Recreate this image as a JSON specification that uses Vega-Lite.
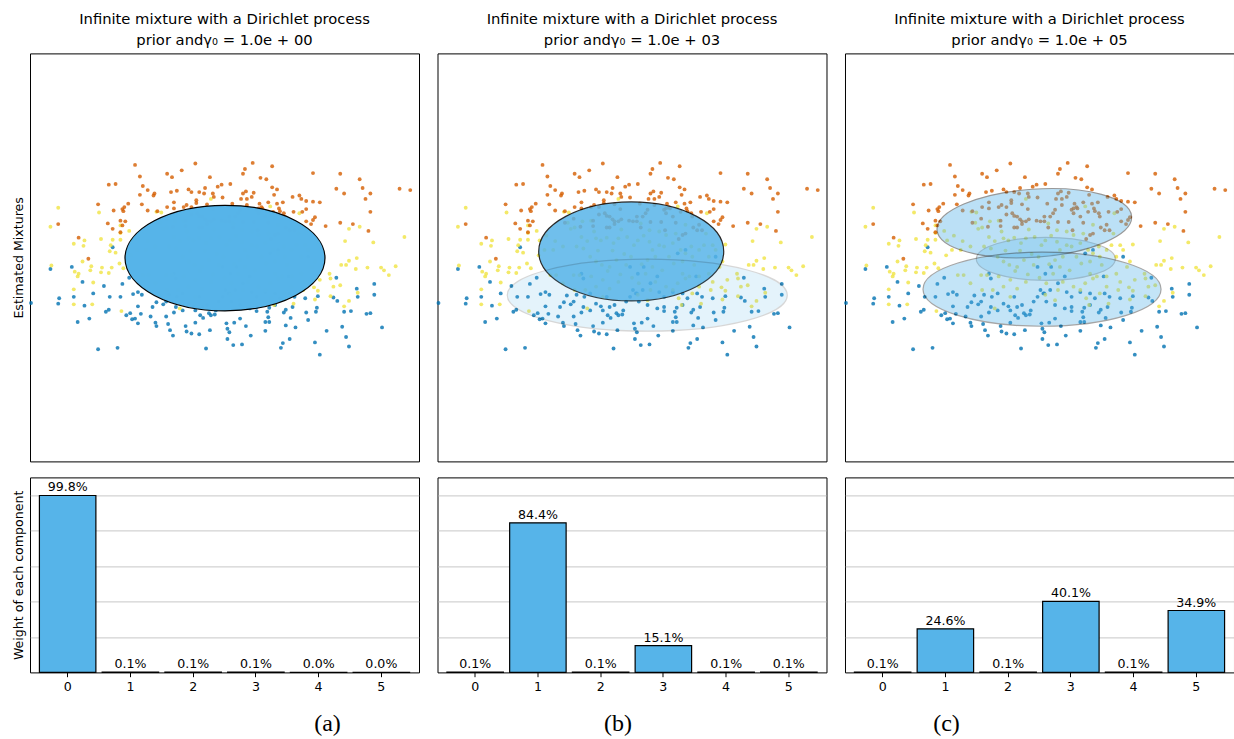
{
"$schema": "https://vega.github.io/schema/vega-lite/v6.json",
"background": "white",
"padding": {"left": 11, "top": 11.4, "right": 0, "bottom": 0},
"config": {
  "font": "DejaVu Sans",
  "view": {"stroke": "black", "strokeWidth": 1},
  "title": {"font": "DejaVu Sans", "fontSize": 14.75, "fontWeight": "normal", "color": "black", "lineHeight": 21, "offset": 5.5},
  "axis": {"labelFont": "DejaVu Sans", "titleFont": "DejaVu Sans", "labelFontSize": 12.6, "titleFontSize": 12.6, "titleFontWeight": "normal", "labelColor": "black", "titleColor": "black", "tickColor": "black"}
},
"datasets": {
  "pts": [
{"x":-1.99,"y":-0.67,"c":"b"},{"x":-1.79,"y":-0.17,"c":"b"},{"x":-1.57,"y":-0.14,"c":"b"},{"x":-1.46,"y":-0.36,"c":"b"},{"x":-1.15,"y":0.15,"c":"b"},{"x":-1.70,"y":-0.60,"c":"b"},{"x":-1.71,"y":-0.68,"c":"b"},{"x":-1.55,"y":-0.58,"c":"b"},{"x":-1.44,"y":-0.71,"c":"b"},{"x":-1.35,"y":-0.53,"c":"b"},{"x":-1.24,"y":-0.42,"c":"b"},{"x":-1.18,"y":-0.58,"c":"b"},{"x":-1.07,"y":-0.58,"c":"b"},{"x":-1.05,"y":-0.39,"c":"b"},{"x":-0.94,"y":-0.54,"c":"b"},{"x":-0.89,"y":-0.51,"c":"b"},{"x":-0.85,"y":-0.55,"c":"b"},{"x":-1.22,"y":-0.80,"c":"b"},{"x":-1.19,"y":-0.77,"c":"b"},{"x":-0.89,"y":-0.72,"c":"b"},{"x":-1.51,"y":-0.95,"c":"b"},{"x":-1.39,"y":-0.90,"c":"b"},{"x":-1.01,"y":-0.85,"c":"b"},{"x":-0.97,"y":-0.82,"c":"b"},{"x":-0.95,"y":-0.91,"c":"b"},{"x":-0.92,"y":-0.90,"c":"b"},{"x":-0.86,"y":-0.83,"c":"b"},{"x":-0.89,"y":-0.97,"c":"b"},{"x":-0.74,"y":-0.73,"c":"b"},{"x":-0.70,"y":-0.66,"c":"b"},{"x":-0.63,"y":-0.69,"c":"b"},{"x":-0.76,"y":-0.87,"c":"b"},{"x":-0.71,"y":-0.96,"c":"b"},{"x":-0.70,"y":-1.01,"c":"b"},{"x":-0.60,"y":-0.87,"c":"b"},{"x":-0.58,"y":-0.98,"c":"b"},{"x":-0.52,"y":-0.81,"c":"b"},{"x":-0.56,"y":-1.07,"c":"b"},{"x":-0.53,"y":-1.15,"c":"b"},{"x":-0.40,"y":-1.01,"c":"b"},{"x":-0.39,"y":-1.09,"c":"b"},{"x":-0.34,"y":-1.12,"c":"b"},{"x":-0.30,"y":-0.96,"c":"b"},{"x":-0.26,"y":-1.13,"c":"b"},{"x":-0.25,"y":-0.85,"c":"b"},{"x":-0.22,"y":-0.89,"c":"b"},{"x":-0.16,"y":-0.82,"c":"b"},{"x":-0.14,"y":-0.85,"c":"b"},{"x":-0.10,"y":-0.84,"c":"b"},{"x":-0.15,"y":-1.07,"c":"b"},{"x":-0.19,"y":-1.34,"c":"b"},{"x":-1.30,"y":-1.35,"c":"b"},{"x":-1.10,"y":-1.33,"c":"b"},
{"x":1.15,"y":-0.30,"c":"b"},{"x":1.36,"y":-0.46,"c":"b"},{"x":1.37,"y":-0.58,"c":"b"},{"x":1.54,"y":-0.39,"c":"b"},{"x":1.54,"y":-0.55,"c":"b"},{"x":0.96,"y":-0.57,"c":"b"},{"x":1.12,"y":-0.59,"c":"b"},{"x":1.16,"y":-0.64,"c":"b"},{"x":0.95,"y":-0.74,"c":"b"},{"x":0.94,"y":-0.80,"c":"b"},{"x":0.84,"y":-0.81,"c":"b"},{"x":1.23,"y":-0.80,"c":"b"},{"x":1.30,"y":-0.79,"c":"b"},{"x":1.46,"y":-0.83,"c":"b"},{"x":1.50,"y":-0.82,"c":"b"},{"x":0.70,"y":-0.73,"c":"b"},{"x":0.63,"y":-0.77,"c":"b"},{"x":0.61,"y":-0.81,"c":"b"},{"x":0.46,"y":-0.74,"c":"b"},{"x":0.44,"y":-0.80,"c":"b"},{"x":0.33,"y":-0.79,"c":"b"},{"x":0.16,"y":-0.90,"c":"b"},{"x":0.10,"y":-0.96,"c":"b"},{"x":0.02,"y":-0.97,"c":"b"},{"x":0.22,"y":-1.01,"c":"b"},{"x":0.42,"y":-0.95,"c":"b"},{"x":0.46,"y":-0.95,"c":"b"},{"x":0.45,"y":-0.88,"c":"b"},{"x":0.63,"y":-1.00,"c":"b"},{"x":0.73,"y":-1.03,"c":"b"},{"x":0.68,"y":-0.89,"c":"b"},{"x":0.86,"y":-0.92,"c":"b"},{"x":0.42,"y":-1.08,"c":"b"},{"x":0.27,"y":-1.15,"c":"b"},{"x":0.03,"y":-1.05,"c":"b"},{"x":0.05,"y":-1.10,"c":"b"},{"x":0.03,"y":-1.20,"c":"b"},{"x":0.18,"y":-1.28,"c":"b"},{"x":0.09,"y":-1.29,"c":"b"},{"x":0.60,"y":-1.26,"c":"b"},{"x":0.67,"y":-1.20,"c":"b"},{"x":0.58,"y":-1.33,"c":"b"},{"x":0.93,"y":-1.25,"c":"b"},{"x":0.98,"y":-1.43,"c":"b"},{"x":1.05,"y":-1.08,"c":"b"},{"x":1.21,"y":-1.02,"c":"b"},{"x":1.25,"y":-1.17,"c":"b"},{"x":1.28,"y":-1.31,"c":"b"},{"x":1.62,"y":-1.03,"c":"b"},
{"x":-0.98,"y":-0.30,"c":"b"},{"x":-0.67,"y":-0.56,"c":"b"},{"x":-0.60,"y":-0.65,"c":"b"},{"x":-0.57,"y":-0.55,"c":"b"},{"x":-0.52,"y":-0.24,"c":"b"},{"x":-0.50,"y":-0.31,"c":"b"},{"x":-0.49,"y":-0.58,"c":"b"},{"x":-0.43,"y":-0.53,"c":"b"},{"x":-0.37,"y":-0.68,"c":"b"},{"x":-0.32,"y":-0.72,"c":"b"},{"x":-0.30,"y":-0.78,"c":"b"},{"x":-0.26,"y":-0.58,"c":"b"},{"x":-0.23,"y":-0.73,"c":"b"},{"x":-0.18,"y":-0.70,"c":"b"},{"x":-0.09,"y":-0.78,"c":"b"},{"x":-0.06,"y":-0.65,"c":"b"},{"x":-0.02,"y":-0.58,"c":"b"},{"x":0.01,"y":-0.48,"c":"b"},{"x":0.05,"y":-0.53,"c":"b"},{"x":-0.43,"y":-0.78,"c":"b"},{"x":-0.50,"y":-0.73,"c":"b"},{"x":-0.02,"y":-0.14,"c":"b"},
{"x":0.04,"y":-0.53,"c":"b"},{"x":0.11,"y":-0.48,"c":"b"},{"x":0.19,"y":-0.38,"c":"b"},{"x":0.28,"y":-0.51,"c":"b"},{"x":0.33,"y":-0.58,"c":"b"},{"x":0.42,"y":-0.51,"c":"b"},{"x":0.52,"y":-0.53,"c":"b"},{"x":0.57,"y":-0.60,"c":"b"},{"x":0.67,"y":-0.53,"c":"b"},{"x":0.72,"y":-0.58,"c":"b"},{"x":0.83,"y":-0.60,"c":"b"},{"x":0.07,"y":-0.65,"c":"b"},{"x":0.16,"y":-0.70,"c":"b"},{"x":0.26,"y":-0.75,"c":"b"},{"x":0.33,"y":-0.73,"c":"b"},{"x":0.52,"y":-0.70,"c":"b"},{"x":0.66,"y":-0.28,"c":"b"},{"x":0.26,"y":-0.28,"c":"b"},{"x":0.12,"y":-0.14,"c":"b"},{"x":0.06,"y":-0.24,"c":"b"},{"x":0.47,"y":0.06,"c":"b"},{"x":0.55,"y":0.11,"c":"b"},{"x":0.86,"y":0.01,"c":"b"},
{"x":-1.71,"y":0.73,"c":"y"},{"x":-1.29,"y":0.66,"c":"y"},{"x":-1.79,"y":0.45,"c":"y"},{"x":-1.44,"y":0.25,"c":"y"},{"x":-1.45,"y":0.17,"c":"y"},{"x":-1.55,"y":0.20,"c":"y"},{"x":-1.27,"y":0.27,"c":"y"},{"x":-1.15,"y":0.26,"c":"y"},{"x":-1.07,"y":0.26,"c":"y"},{"x":-1.17,"y":0.18,"c":"y"},{"x":-1.18,"y":0.09,"c":"y"},{"x":-1.12,"y":0.07,"c":"y"},{"x":-0.98,"y":0.39,"c":"y"},{"x":-1.07,"y":0.47,"c":"y"},{"x":-1.78,"y":-0.12,"c":"y"},{"x":-1.54,"y":-0.21,"c":"y"},{"x":-1.50,"y":-0.24,"c":"y"},{"x":-1.51,"y":-0.28,"c":"y"},{"x":-1.46,"y":-0.06,"c":"y"},{"x":-1.38,"y":-0.19,"c":"y"},{"x":-1.37,"y":-0.13,"c":"y"},{"x":-1.27,"y":-0.22,"c":"y"},{"x":-1.26,"y":-0.15,"c":"y"},{"x":-1.19,"y":-0.23,"c":"y"},{"x":-1.16,"y":-0.15,"c":"y"},{"x":-1.08,"y":-0.09,"c":"y"},{"x":-1.04,"y":-0.16,"c":"y"},{"x":-1.55,"y":-0.47,"c":"y"},{"x":-1.35,"y":-0.37,"c":"y"},{"x":-1.55,"y":-0.69,"c":"y"},{"x":-1.36,"y":-0.69,"c":"y"},{"x":-1.06,"y":-0.79,"c":"y"},{"x":-0.46,"y":-0.75,"c":"y"},{"x":-0.65,"y":0.66,"c":"y"},{"x":-0.70,"y":0.67,"c":"y"},{"x":-0.14,"y":0.86,"c":"y"},{"x":-1.07,"y":0.36,"c":"y"},
{"x":0.47,"y":0.75,"c":"y"},{"x":0.77,"y":0.65,"c":"y"},{"x":1.28,"y":0.42,"c":"y"},{"x":1.39,"y":0.45,"c":"y"},{"x":1.24,"y":0.24,"c":"y"},{"x":1.53,"y":0.22,"c":"y"},{"x":1.85,"y":0.30,"c":"y"},{"x":1.20,"y":-0.11,"c":"y"},{"x":1.25,"y":-0.11,"c":"y"},{"x":1.28,"y":-0.05,"c":"y"},{"x":1.36,"y":-0.01,"c":"y"},{"x":1.35,"y":-0.17,"c":"y"},{"x":1.47,"y":-0.15,"c":"y"},{"x":1.61,"y":-0.15,"c":"y"},{"x":1.64,"y":-0.19,"c":"y"},{"x":1.69,"y":-0.26,"c":"y"},{"x":1.76,"y":-0.13,"c":"y"},{"x":1.08,"y":-0.24,"c":"y"},{"x":1.09,"y":-0.31,"c":"y"},{"x":0.98,"y":-0.33,"c":"y"},{"x":1.12,"y":-0.43,"c":"y"},{"x":1.19,"y":-0.41,"c":"y"},{"x":0.92,"y":-0.44,"c":"y"},{"x":0.96,"y":-0.49,"c":"y"},{"x":1.09,"y":-0.57,"c":"y"},{"x":0.93,"y":-0.62,"c":"y"},{"x":1.28,"y":-0.64,"c":"y"},{"x":1.23,"y":-0.72,"c":"y"},{"x":1.37,"y":-0.52,"c":"y"},{"x":0.51,"y":-0.70,"c":"y"},
{"x":-0.88,"y":0.32,"c":"y"},{"x":-0.79,"y":0.24,"c":"y"},{"x":-0.71,"y":0.16,"c":"y"},{"x":-0.66,"y":0.51,"c":"y"},{"x":-0.63,"y":0.42,"c":"y"},{"x":-0.59,"y":0.44,"c":"y"},{"x":-0.52,"y":0.30,"c":"y"},{"x":-0.42,"y":0.54,"c":"y"},{"x":-0.39,"y":0.38,"c":"y"},{"x":-0.37,"y":0.28,"c":"y"},{"x":-0.32,"y":0.25,"c":"y"},{"x":-0.26,"y":0.29,"c":"y"},{"x":-0.19,"y":0.21,"c":"y"},{"x":-0.14,"y":0.28,"c":"y"},{"x":-0.11,"y":0.41,"c":"y"},{"x":-0.50,"y":0.13,"c":"y"},{"x":-0.43,"y":0.01,"c":"y"},{"x":-0.37,"y":-0.06,"c":"y"},{"x":-0.31,"y":-0.11,"c":"y"},{"x":-0.23,"y":-0.14,"c":"y"},{"x":-0.16,"y":-0.04,"c":"y"},{"x":-0.06,"y":-0.11,"c":"y"},{"x":-0.01,"y":0.01,"c":"y"},{"x":-0.42,"y":-0.28,"c":"y"},{"x":-0.30,"y":-0.33,"c":"y"},{"x":-0.37,"y":-0.43,"c":"y"},{"x":-0.23,"y":-0.46,"c":"y"},{"x":-0.14,"y":-0.36,"c":"y"},{"x":-0.60,"y":-0.26,"c":"y"},{"x":-0.54,"y":-0.26,"c":"y"},{"x":-0.71,"y":-0.38,"c":"y"},{"x":-0.78,"y":-0.26,"c":"y"},{"x":-0.84,"y":-0.26,"c":"y"},{"x":-0.59,"y":-0.48,"c":"y"},{"x":-0.48,"y":-0.48,"c":"y"},{"x":-0.30,"y":-0.58,"c":"y"},{"x":-0.81,"y":0.11,"c":"y"},{"x":-0.90,"y":0.11,"c":"y"},{"x":-0.96,"y":0.03,"c":"y"},{"x":-0.95,"y":0.25,"c":"y"},{"x":-0.51,"y":0.53,"c":"y"},{"x":-0.46,"y":0.24,"c":"y"},{"x":-0.57,"y":0.16,"c":"y"},
{"x":0.06,"y":0.25,"c":"y"},{"x":0.18,"y":0.23,"c":"y"},{"x":0.21,"y":0.11,"c":"y"},{"x":0.28,"y":0.18,"c":"y"},{"x":0.33,"y":0.16,"c":"y"},{"x":0.42,"y":0.21,"c":"y"},{"x":0.50,"y":0.11,"c":"y"},{"x":0.55,"y":0.06,"c":"y"},{"x":0.62,"y":0.01,"c":"y"},{"x":0.61,"y":0.16,"c":"y"},{"x":0.69,"y":0.11,"c":"y"},{"x":0.74,"y":0.18,"c":"y"},{"x":0.79,"y":0.01,"c":"y"},{"x":0.16,"y":-0.04,"c":"y"},{"x":0.24,"y":0.01,"c":"y"},{"x":0.38,"y":0.01,"c":"y"},{"x":0.43,"y":-0.09,"c":"y"},{"x":0.52,"y":-0.06,"c":"y"},{"x":0.64,"y":-0.11,"c":"y"},{"x":0.21,"y":-0.14,"c":"y"},{"x":0.31,"y":-0.19,"c":"y"},{"x":0.14,"y":-0.24,"c":"y"},{"x":0.52,"y":-0.24,"c":"y"},{"x":0.59,"y":-0.28,"c":"y"},{"x":0.69,"y":-0.28,"c":"y"},{"x":0.79,"y":-0.24,"c":"y"},{"x":0.83,"y":-0.36,"c":"y"},{"x":0.90,"y":-0.14,"c":"y"},{"x":0.93,"y":-0.06,"c":"y"},{"x":0.47,"y":-0.38,"c":"y"},{"x":0.55,"y":-0.31,"c":"y"},{"x":0.24,"y":-0.36,"c":"y"},{"x":0.07,"y":-0.38,"c":"y"},{"x":0.19,"y":-0.48,"c":"y"},{"x":0.35,"y":-0.43,"c":"y"},{"x":0.42,"y":-0.48,"c":"y"},{"x":0.69,"y":-0.43,"c":"y"},{"x":0.81,"y":-0.48,"c":"y"},{"x":0.62,"y":-0.53,"c":"y"},{"x":0.16,"y":-0.63,"c":"y"},{"x":0.48,"y":-0.60,"c":"y"},{"x":0.71,"y":-0.68,"c":"y"},{"x":0.06,"y":-0.55,"c":"y"},{"x":0.86,"y":0.11,"c":"y"},{"x":0.96,"y":0.19,"c":"y"},{"x":0.83,"y":0.18,"c":"y"},{"x":0.45,"y":0.35,"c":"y"},{"x":0.28,"y":0.38,"c":"y"},{"x":0.18,"y":0.40,"c":"y"},{"x":0.09,"y":0.50,"c":"y"},{"x":0.55,"y":0.48,"c":"y"},{"x":0.35,"y":0.33,"c":"y"},{"x":0.76,"y":0.35,"c":"y"},
{"x":-0.08,"y":0.05,"c":"y"},{"x":0.02,"y":0.18,"c":"y"},{"x":-0.20,"y":0.10,"c":"y"},{"x":-0.12,"y":-0.25,"c":"y"},{"x":0.10,"y":-0.10,"c":"y"},{"x":-0.25,"y":-0.20,"c":"y"},{"x":0.00,"y":-0.30,"c":"y"},{"x":-0.05,"y":0.30,"c":"y"},{"x":0.12,"y":0.32,"c":"y"},{"x":-0.35,"y":0.10,"c":"y"},
{"x":-0.92,"y":1.36,"c":"o"},{"x":-0.30,"y":1.38,"c":"o"},{"x":-0.87,"y":1.19,"c":"o"},{"x":-0.59,"y":1.23,"c":"o"},{"x":-0.54,"y":1.18,"c":"o"},{"x":-0.44,"y":1.28,"c":"o"},{"x":-0.15,"y":1.18,"c":"o"},{"x":-1.19,"y":1.07,"c":"o"},{"x":-1.12,"y":1.08,"c":"o"},{"x":-0.84,"y":1.05,"c":"o"},{"x":-0.79,"y":0.99,"c":"o"},{"x":-0.72,"y":0.94,"c":"o"},{"x":-0.73,"y":0.91,"c":"o"},{"x":-0.87,"y":0.92,"c":"o"},{"x":-0.55,"y":0.96,"c":"o"},{"x":-0.49,"y":0.98,"c":"o"},{"x":-0.37,"y":1.00,"c":"o"},{"x":-0.34,"y":0.96,"c":"o"},{"x":-0.26,"y":0.96,"c":"o"},{"x":-0.21,"y":0.94,"c":"o"},{"x":-0.20,"y":1.02,"c":"o"},{"x":-0.12,"y":0.94,"c":"o"},{"x":-0.07,"y":1.04,"c":"o"},{"x":-0.03,"y":1.07,"c":"o"},{"x":-1.30,"y":0.78,"c":"o"},{"x":-0.99,"y":0.79,"c":"o"},{"x":-1.03,"y":0.74,"c":"o"},{"x":-1.05,"y":0.71,"c":"o"},{"x":-1.04,"y":0.68,"c":"o"},{"x":-1.14,"y":0.69,"c":"o"},{"x":-0.85,"y":0.78,"c":"o"},{"x":-0.79,"y":0.69,"c":"o"},{"x":-0.69,"y":0.68,"c":"o"},{"x":-0.59,"y":0.74,"c":"o"},{"x":-0.52,"y":0.81,"c":"o"},{"x":-0.52,"y":0.72,"c":"o"},{"x":-0.42,"y":0.74,"c":"o"},{"x":-0.39,"y":0.77,"c":"o"},{"x":-0.29,"y":0.84,"c":"o"},{"x":-0.29,"y":0.80,"c":"o"},{"x":-0.18,"y":0.78,"c":"o"},{"x":-0.11,"y":0.89,"c":"o"},{"x":-0.02,"y":0.88,"c":"o"},{"x":-1.71,"y":0.49,"c":"o"},{"x":-1.20,"y":0.50,"c":"o"},{"x":-1.07,"y":0.54,"c":"o"},{"x":-1.02,"y":0.53,"c":"o"},{"x":-1.05,"y":0.47,"c":"o"},{"x":-1.15,"y":0.42,"c":"o"},{"x":-1.07,"y":0.37,"c":"o"},{"x":-1.50,"y":0.29,"c":"o"},{"x":-1.40,"y":-0.02,"c":"o"},
{"x":0.29,"y":1.39,"c":"o"},{"x":0.49,"y":1.34,"c":"o"},{"x":0.21,"y":1.30,"c":"o"},{"x":0.19,"y":1.23,"c":"o"},{"x":0.37,"y":1.17,"c":"o"},{"x":0.43,"y":1.15,"c":"o"},{"x":0.06,"y":1.08,"c":"o"},{"x":0.91,"y":1.24,"c":"o"},{"x":1.19,"y":1.23,"c":"o"},{"x":1.39,"y":1.15,"c":"o"},{"x":1.15,"y":1.01,"c":"o"},{"x":1.23,"y":0.94,"c":"o"},{"x":1.42,"y":1.02,"c":"o"},{"x":1.50,"y":0.94,"c":"o"},{"x":1.45,"y":0.86,"c":"o"},{"x":1.80,"y":1.01,"c":"o"},{"x":1.91,"y":0.99,"c":"o"},{"x":0.49,"y":1.03,"c":"o"},{"x":0.54,"y":1.00,"c":"o"},{"x":0.51,"y":0.92,"c":"o"},{"x":0.19,"y":0.94,"c":"o"},{"x":0.22,"y":0.97,"c":"o"},{"x":0.17,"y":0.86,"c":"o"},{"x":0.28,"y":0.89,"c":"o"},{"x":0.30,"y":0.95,"c":"o"},{"x":0.23,"y":0.86,"c":"o"},{"x":0.36,"y":0.79,"c":"o"},{"x":0.45,"y":0.81,"c":"o"},{"x":0.54,"y":0.79,"c":"o"},{"x":0.60,"y":0.81,"c":"o"},{"x":0.70,"y":0.89,"c":"o"},{"x":0.77,"y":0.91,"c":"o"},{"x":0.79,"y":0.86,"c":"o"},{"x":0.84,"y":0.83,"c":"o"},{"x":0.91,"y":0.82,"c":"o"},{"x":0.98,"y":0.81,"c":"o"},{"x":0.08,"y":0.79,"c":"o"},{"x":0.23,"y":0.77,"c":"o"},{"x":0.56,"y":0.72,"c":"o"},{"x":0.57,"y":0.68,"c":"o"},{"x":0.61,"y":0.65,"c":"o"},{"x":0.84,"y":0.71,"c":"o"},{"x":0.80,"y":0.67,"c":"o"},{"x":0.93,"y":0.59,"c":"o"},{"x":0.91,"y":0.55,"c":"o"},{"x":0.84,"y":0.53,"c":"o"},{"x":0.89,"y":0.49,"c":"o"},{"x":1.04,"y":0.46,"c":"o"},{"x":1.19,"y":0.51,"c":"o"},{"x":1.32,"y":0.49,"c":"o"},{"x":1.48,"y":0.39,"c":"o"},{"x":1.50,"y":0.67,"c":"o"},
{"x":-0.34,"y":0.74,"c":"o"},{"x":-0.28,"y":0.65,"c":"o"},{"x":-0.26,"y":0.61,"c":"o"},{"x":-0.23,"y":0.60,"c":"o"},{"x":-0.20,"y":0.56,"c":"o"},{"x":-0.18,"y":0.53,"c":"o"},{"x":-0.12,"y":0.71,"c":"o"},{"x":-0.11,"y":0.56,"c":"o"},{"x":-0.03,"y":0.54,"c":"o"},{"x":0.01,"y":0.53,"c":"o"},{"x":-0.26,"y":0.44,"c":"o"},{"x":-0.23,"y":0.44,"c":"o"},{"x":-0.18,"y":0.49,"c":"o"},{"x":-0.14,"y":0.53,"c":"o"},{"x":-0.69,"y":0.51,"c":"o"},{"x":-0.34,"y":0.63,"c":"o"},{"x":-0.40,"y":0.54,"c":"o"},{"x":-0.60,"y":0.57,"c":"o"},{"x":-0.53,"y":0.45,"c":"o"},{"x":-0.40,"y":0.46,"c":"o"},{"x":0.05,"y":0.60,"c":"o"},
{"x":0.05,"y":0.53,"c":"o"},{"x":0.09,"y":0.44,"c":"o"},{"x":0.14,"y":0.65,"c":"o"},{"x":0.16,"y":0.70,"c":"o"},{"x":0.33,"y":0.70,"c":"o"},{"x":0.35,"y":0.72,"c":"o"},{"x":0.38,"y":0.74,"c":"o"},{"x":0.35,"y":0.65,"c":"o"},{"x":0.39,"y":0.72,"c":"o"},{"x":0.50,"y":0.67,"c":"o"},{"x":0.62,"y":0.60,"c":"o"},{"x":0.71,"y":0.67,"c":"o"},{"x":0.72,"y":0.40,"c":"o"},{"x":0.67,"y":0.40,"c":"o"},{"x":0.52,"y":0.33,"c":"o"},{"x":0.55,"y":0.35,"c":"o"},{"x":0.48,"y":0.27,"c":"o"},{"x":0.34,"y":0.40,"c":"o"},{"x":0.30,"y":0.52,"c":"o"},{"x":0.19,"y":0.52,"c":"o"},{"x":0.11,"y":0.60,"c":"o"},{"x":0.69,"y":0.48,"c":"o"},{"x":0.45,"y":0.51,"c":"o"},{"x":0.63,"y":0.44,"c":"o"},{"x":0.42,"y":0.60,"c":"o"}
  ],
  "ell": [
    {"panel":"a","comp":0,"x":0.005,"y":-0.01,"w":0.998},
    {"panel":"b","comp":1,"x":-0.008,"y":0.088,"w":0.844},
    {"panel":"b","comp":3,"x":0.157,"y":-0.556,"w":0.151},
    {"panel":"c","comp":1,"x":0.065,"y":-0.022,"w":0.246},
    {"panel":"c","comp":3,"x":-0.053,"y":0.503,"w":0.401},
    {"panel":"c","comp":5,"x":0.026,"y":-0.468,"w":0.349}
  ],
  "wts": [
    {"panel":"a","comp":0,"w":0.998},{"panel":"a","comp":1,"w":0.001},{"panel":"a","comp":2,"w":0.001},{"panel":"a","comp":3,"w":0.001},{"panel":"a","comp":4,"w":0.0004},{"panel":"a","comp":5,"w":0.0004},
    {"panel":"b","comp":0,"w":0.001},{"panel":"b","comp":1,"w":0.844},{"panel":"b","comp":2,"w":0.001},{"panel":"b","comp":3,"w":0.151},{"panel":"b","comp":4,"w":0.001},{"panel":"b","comp":5,"w":0.001},
    {"panel":"c","comp":0,"w":0.001},{"panel":"c","comp":1,"w":0.246},{"panel":"c","comp":2,"w":0.001},{"panel":"c","comp":3,"w":0.401},{"panel":"c","comp":4,"w":0.001},{"panel":"c","comp":5,"w":0.349}
  ]
},
"columns": 3,
"spacing": {"row": 14, "column": 15.5},
"concat": [
  {
    "width": 389, "height": 408,
    "title": {"text": ["Infinite mixture with a Dirichlet process", "prior andγ₀ = 1.0e + 00"]},
    "layer": [
      {"data": {"name": "pts"},
       "mark": {"type": "point", "filled": true, "size": 15, "opacity": 0.8},
       "encoding": {
         "x": {"field": "x", "type": "quantitative", "scale": {"domain": [-2, 2], "nice": false, "zero": false}, "axis": null},
         "y": {"field": "y", "type": "quantitative", "scale": {"domain": [-3, 3], "nice": false, "zero": false}, "axis": {"title": "Estimated Mixtures", "labels": false, "ticks": false, "domain": false, "grid": false, "titlePadding": 5}},
         "color": {"field": "c", "type": "nominal", "scale": {"domain": ["b", "y", "o"], "range": ["#0072B2", "#F0E442", "#D55E00"]}, "legend": null}
       }},
      {"data": {"name": "ell"}, "transform": [{"filter": "datum.panel == 'a' && datum.comp == 0"}],
       "mark": {"type": "point", "shape": "M-1,0C-1,-0.292,-0.552,-0.528,0,-0.528C0.552,-0.528,1,-0.292,1,0C1,0.292,0.552,0.528,0,0.528C-0.552,0.528,-1,0.292,-1,0Z", "size": 40000, "filled": true, "fill": "#56B4E9", "stroke": "black", "strokeWidth": 1.2},
       "encoding": {
         "x": {"field": "x", "type": "quantitative", "scale": {"domain": [-2, 2], "nice": false, "zero": false}, "axis": null},
         "y": {"field": "y", "type": "quantitative", "scale": {"domain": [-3, 3], "nice": false, "zero": false}, "axis": {"title": "Estimated Mixtures", "labels": false, "ticks": false, "domain": false, "grid": false, "titlePadding": 5}},
         "opacity": {"field": "w", "type": "quantitative", "scale": null}
       }}
    ]
  },
  {
    "width": 389, "height": 408,
    "title": {"text": ["Infinite mixture with a Dirichlet process", "prior andγ₀ = 1.0e + 03"]},
    "layer": [
      {"data": {"name": "pts"},
       "mark": {"type": "point", "filled": true, "size": 15, "opacity": 0.8},
       "encoding": {
         "x": {"field": "x", "type": "quantitative", "scale": {"domain": [-2, 2], "nice": false, "zero": false}, "axis": null},
         "y": {"field": "y", "type": "quantitative", "scale": {"domain": [-3, 3], "nice": false, "zero": false}, "axis": null},
         "color": {"field": "c", "type": "nominal", "scale": {"domain": ["b", "y", "o"], "range": ["#0072B2", "#F0E442", "#D55E00"]}, "legend": null}
       }},
      {"data": {"name": "ell"}, "transform": [{"filter": "datum.panel == 'b' && datum.comp == 1"}],
       "mark": {"type": "point", "shape": "M-1,0C-1,-0.296,-0.552,-0.535,0,-0.535C0.552,-0.535,1,-0.296,1,0C1,0.296,0.552,0.535,0,0.535C-0.552,0.535,-1,0.296,-1,0Z", "size": 34225, "filled": true, "fill": "#56B4E9", "stroke": "black", "strokeWidth": 1.2},
       "encoding": {
         "x": {"field": "x", "type": "quantitative", "scale": {"domain": [-2, 2], "nice": false, "zero": false}, "axis": null},
         "y": {"field": "y", "type": "quantitative", "scale": {"domain": [-3, 3], "nice": false, "zero": false}, "axis": null},
         "opacity": {"field": "w", "type": "quantitative", "scale": null}
       }},
      {"data": {"name": "ell"}, "transform": [{"filter": "datum.panel == 'b' && datum.comp == 3"}],
       "mark": {"type": "point", "shape": "M-1,0C-1,-0.142,-0.552,-0.257,0,-0.257C0.552,-0.257,1,-0.142,1,0C1,0.142,0.552,0.257,0,0.257C-0.552,0.257,-1,0.142,-1,0Z", "size": 78400, "filled": true, "fill": "#56B4E9", "stroke": "black", "strokeWidth": 1.2},
       "encoding": {
         "x": {"field": "x", "type": "quantitative", "scale": {"domain": [-2, 2], "nice": false, "zero": false}, "axis": null},
         "y": {"field": "y", "type": "quantitative", "scale": {"domain": [-3, 3], "nice": false, "zero": false}, "axis": null},
         "opacity": {"field": "w", "type": "quantitative", "scale": null}
       }}
    ]
  },
  {
    "width": 389, "height": 408,
    "title": {"text": ["Infinite mixture with a Dirichlet process", "prior andγ₀ = 1.0e + 05"]},
    "layer": [
      {"data": {"name": "pts"},
       "mark": {"type": "point", "filled": true, "size": 15, "opacity": 0.8},
       "encoding": {
         "x": {"field": "x", "type": "quantitative", "scale": {"domain": [-2, 2], "nice": false, "zero": false}, "axis": null},
         "y": {"field": "y", "type": "quantitative", "scale": {"domain": [-3, 3], "nice": false, "zero": false}, "axis": null},
         "color": {"field": "c", "type": "nominal", "scale": {"domain": ["b", "y", "o"], "range": ["#0072B2", "#F0E442", "#D55E00"]}, "legend": null}
       }},
      {"data": {"name": "ell"}, "transform": [{"filter": "datum.panel == 'c' && datum.comp == 1"}],
       "mark": {"type": "point", "shape": "M-1,0C-1,-0.171,-0.552,-0.309,0,-0.309C0.552,-0.309,1,-0.171,1,0C1,0.171,0.552,0.309,0,0.309C-0.552,0.309,-1,0.171,-1,0Z", "size": 19321, "filled": true, "fill": "#56B4E9", "stroke": "black", "strokeWidth": 1.2},
       "encoding": {
         "x": {"field": "x", "type": "quantitative", "scale": {"domain": [-2, 2], "nice": false, "zero": false}, "axis": null},
         "y": {"field": "y", "type": "quantitative", "scale": {"domain": [-3, 3], "nice": false, "zero": false}, "axis": null},
         "opacity": {"field": "w", "type": "quantitative", "scale": null}
       }},
      {"data": {"name": "ell"}, "transform": [{"filter": "datum.panel == 'c' && datum.comp == 3"}],
       "mark": {"type": "point", "shape": "M-1,0C-1,-0.193,-0.552,-0.349,0,-0.349C0.552,-0.349,1,-0.193,1,0C1,0.193,0.552,0.349,0,0.349C-0.552,0.349,-1,0.193,-1,0Z", "size": 38025, "angle": -4, "filled": true, "fill": "#56B4E9", "stroke": "black", "strokeWidth": 1.2},
       "encoding": {
         "x": {"field": "x", "type": "quantitative", "scale": {"domain": [-2, 2], "nice": false, "zero": false}, "axis": null},
         "y": {"field": "y", "type": "quantitative", "scale": {"domain": [-3, 3], "nice": false, "zero": false}, "axis": null},
         "opacity": {"field": "w", "type": "quantitative", "scale": null}
       }},
      {"data": {"name": "ell"}, "transform": [{"filter": "datum.panel == 'c' && datum.comp == 5"}],
       "mark": {"type": "point", "shape": "M-1,0C-1,-0.172,-0.552,-0.311,0,-0.311C0.552,-0.311,1,-0.172,1,0C1,0.172,0.552,0.311,0,0.311C-0.552,0.311,-1,0.172,-1,0Z", "size": 56644, "filled": true, "fill": "#56B4E9", "stroke": "black", "strokeWidth": 1.2},
       "encoding": {
         "x": {"field": "x", "type": "quantitative", "scale": {"domain": [-2, 2], "nice": false, "zero": false}, "axis": null},
         "y": {"field": "y", "type": "quantitative", "scale": {"domain": [-3, 3], "nice": false, "zero": false}, "axis": null},
         "opacity": {"field": "w", "type": "quantitative", "scale": null}
       }}
    ]
  },
  {
    "width": 389, "height": 195,
    "data": {"name": "wts"},
    "transform": [{"filter": "datum.panel == 'a'"}],
    "encoding": {
      "x": {"field": "comp", "type": "ordinal", "scale": {"paddingInner": 0.1, "paddingOuter": 0.15}, "axis": {"title": "(a)", "labelAngle": 0, "tickSize": 4.3, "labelPadding": 4, "domain": false, "grid": false, "titleFont": "Liberation Serif", "titleFontSize": 24, "titleX": 297, "titleY": 51, "titleBaseline": "middle", "titleAlign": "center"}},
      "y": {"field": "w", "type": "quantitative", "scale": {"domain": [0, 1.1], "nice": false}, "axis": {"title": "Weight of each component", "labels": false, "ticks": false, "domain": false, "values": [0.2, 0.4, 0.6, 0.8, 1.0], "grid": true, "gridColor": "#b0b0b0", "gridOpacity": 0.7, "titlePadding": 5}}
    },
    "layer": [
      {"mark": {"type": "bar", "fill": "#56B4E9", "stroke": "black", "strokeWidth": 1.2}},
      {"mark": {"type": "text", "baseline": "bottom", "dy": -1, "fontSize": 12.6, "color": "black"},
       "encoding": {"text": {"field": "w", "type": "quantitative", "format": ".1%"}}}
    ]
  },
  {
    "width": 389, "height": 195,
    "data": {"name": "wts"},
    "transform": [{"filter": "datum.panel == 'b'"}],
    "encoding": {
      "x": {"field": "comp", "type": "ordinal", "scale": {"paddingInner": 0.1, "paddingOuter": 0.15}, "axis": {"title": "(b)", "labelAngle": 0, "tickSize": 4.3, "labelPadding": 4, "domain": false, "grid": false, "titleFont": "Liberation Serif", "titleFontSize": 24, "titleX": 180, "titleY": 51, "titleBaseline": "middle", "titleAlign": "center"}},
      "y": {"field": "w", "type": "quantitative", "scale": {"domain": [0, 1.1], "nice": false}, "axis": {"title": null, "labels": false, "ticks": false, "domain": false, "values": [0.2, 0.4, 0.6, 0.8, 1.0], "grid": true, "gridColor": "#b0b0b0", "gridOpacity": 0.7}}
    },
    "layer": [
      {"mark": {"type": "bar", "fill": "#56B4E9", "stroke": "black", "strokeWidth": 1.2}},
      {"mark": {"type": "text", "baseline": "bottom", "dy": -1, "fontSize": 12.6, "color": "black"},
       "encoding": {"text": {"field": "w", "type": "quantitative", "format": ".1%"}}}
    ]
  },
  {
    "width": 389, "height": 195,
    "data": {"name": "wts"},
    "transform": [{"filter": "datum.panel == 'c'"}],
    "encoding": {
      "x": {"field": "comp", "type": "ordinal", "scale": {"paddingInner": 0.1, "paddingOuter": 0.15}, "axis": {"title": "(c)", "labelAngle": 0, "tickSize": 4.3, "labelPadding": 4, "domain": false, "grid": false, "titleFont": "Liberation Serif", "titleFontSize": 24, "titleX": 101, "titleY": 51, "titleBaseline": "middle", "titleAlign": "center"}},
      "y": {"field": "w", "type": "quantitative", "scale": {"domain": [0, 1.1], "nice": false}, "axis": {"title": null, "labels": false, "ticks": false, "domain": false, "values": [0.2, 0.4, 0.6, 0.8, 1.0], "grid": true, "gridColor": "#b0b0b0", "gridOpacity": 0.7}}
    },
    "layer": [
      {"mark": {"type": "bar", "fill": "#56B4E9", "stroke": "black", "strokeWidth": 1.2}},
      {"mark": {"type": "text", "baseline": "bottom", "dy": -1, "fontSize": 12.6, "color": "black"},
       "encoding": {"text": {"field": "w", "type": "quantitative", "format": ".1%"}}}
    ]
  }
]
}
